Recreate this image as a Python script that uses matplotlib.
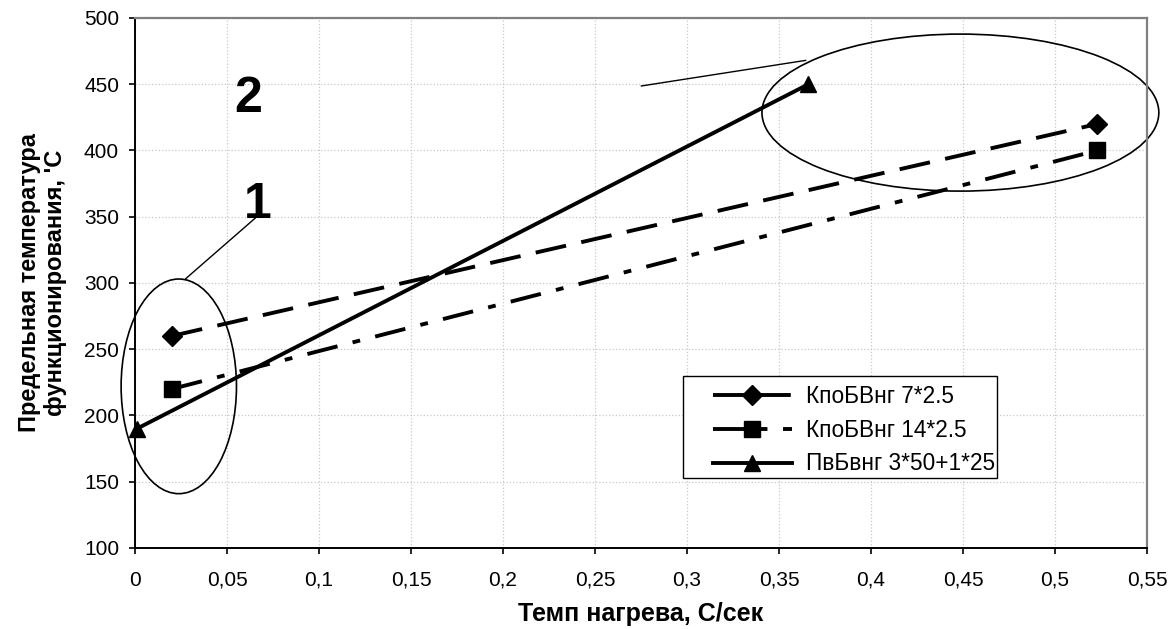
import matplotlib.pyplot as plt
from matplotlib.patches import Ellipse, Rectangle

plt.rcParams['font.family'] = ['Liberation Sans', 'DejaVu Sans']

# data
x_kpo7 = [0.02, 0.523]
y_kpo7 = [260, 420]
x_kpo14 = [0.02, 0.523]
y_kpo14 = [220, 400]
x_pvb = [0.001, 0.366]
y_pvb = [190, 450]

labels = ['КпоБВнг 7*2.5', 'КпоБВнг 14*2.5', 'ПвБвнг 3*50+1*25']
xticks = [0, 0.05, 0.1, 0.15, 0.2, 0.25, 0.3, 0.35, 0.4, 0.45, 0.5, 0.55]
xticklabels = ['0', '0,05', '0,1', '0,15', '0,2', '0,25', '0,3', '0,35', '0,4', '0,45', '0,5', '0,55']
yticks = [100, 150, 200, 250, 300, 350, 400, 450, 500]

fig = plt.figure(figsize=(11.73, 6.29), dpi=100)
ax = fig.add_axes([0.1151, 0.1288, 0.8627, 0.8426])

lw = 2.8
ax.plot(x_kpo7, y_kpo7, color='black', lw=lw, dashes=(8, 4), marker='D',
        markersize=10, label=labels[0], clip_on=False)
ax.plot(x_kpo14, y_kpo14, color='black', lw=lw, dashes=(8, 4, 2, 4), marker='s',
        markersize=11, label=labels[1], clip_on=False)
ax.plot(x_pvb, y_pvb, color='black', lw=lw, marker='^',
        markersize=12, label=labels[2], clip_on=False)

# ellipses around point groups
ax.add_patch(Ellipse((0.0238, 222), 0.0627, 162, fill=False, ec='black', lw=1.2, clip_on=False))
ax.add_patch(Ellipse((0.4486, 428.6), 0.2157, 118.5, fill=False, ec='black', lw=1.2, clip_on=False))

ax.text(0.0668, 349, '1', fontsize=36, fontweight='bold', ha='center', va='baseline')
ax.plot([0.0662, 0.0276], [350, 303.3], color='black', lw=1)
ax.text(0.0614, 429, '2', fontsize=36, fontweight='bold', ha='center', va='baseline')
ax.plot([0.2752, 0.3645], [448.7, 468], color='black', lw=1)

ax.set_xlim(0, 0.55)
ax.set_ylim(100, 500)
ax.set_xticks(xticks)
ax.set_xticklabels(xticklabels)
ax.set_yticks(yticks)
ax.tick_params(direction='out', length=4.5, width=1.2, labelsize=15, pad=7)
ax.tick_params(axis='x', pad=12)
ax.grid(True, color='#c8c8c8', ls=':', lw=0.9)
ax.set_axisbelow(True)
for s in ['top', 'right']:
    ax.spines[s].set_color('#808080')
    ax.spines[s].set_linewidth(1.6)
for s in ['left', 'bottom']:
    ax.spines[s].set_linewidth(1.4)

ax.set_xlabel('Темп нагрева, С/сек', fontsize=18, fontweight='bold', labelpad=9)
ax.set_ylabel("Предельная температура\nфункционирования, 'С", fontsize=17,
              fontweight='bold', labelpad=12)

# legend frame drawn separately so the inner padding matches
ax.add_patch(Rectangle((0.5415, 0.1321), 0.3103, 0.1925, transform=ax.transAxes,
                       fill=True, fc='white', ec='black', lw=1.0, zorder=4))
leg = ax.legend(loc='upper left', bbox_to_anchor=(0.571, 0.308), fontsize=16.3,
                frameon=False, handlelength=3.5, handletextpad=0.6,
                borderpad=0, labelspacing=0.48, borderaxespad=0)
leg.set_zorder(5)

fig.savefig('out.png', dpi=100)
